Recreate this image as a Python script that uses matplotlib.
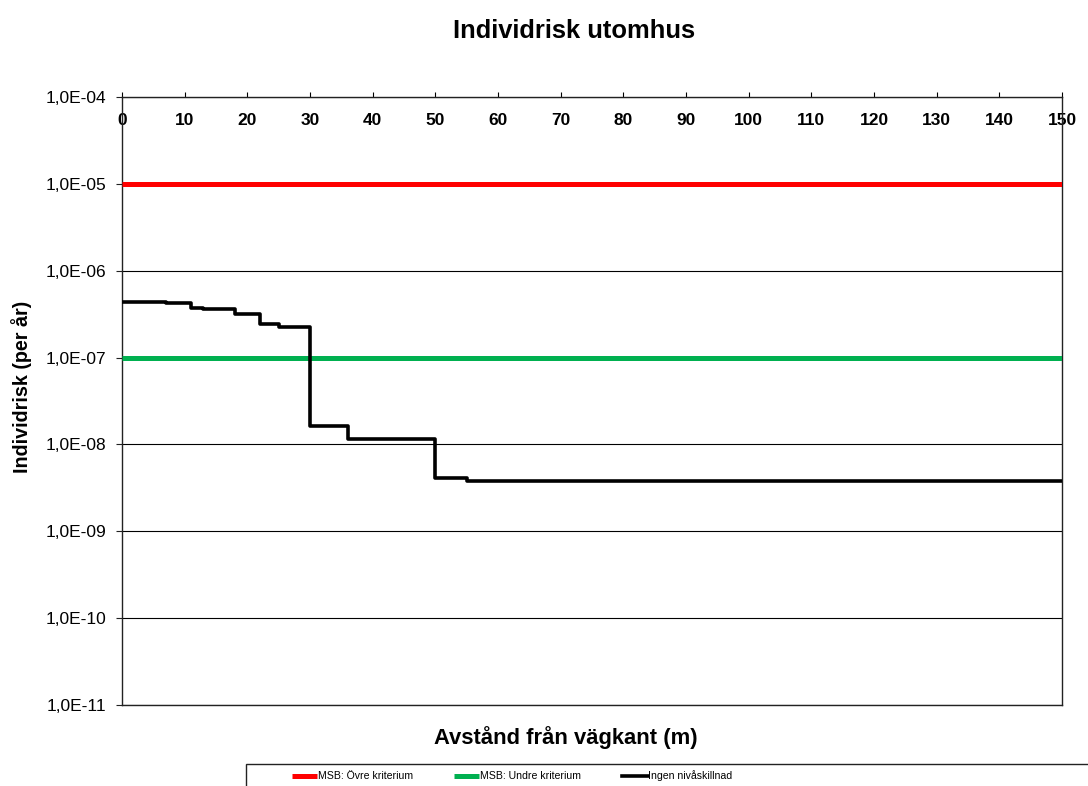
import math
import matplotlib.pyplot as plt
from matplotlib.patches import Rectangle
from matplotlib.ticker import FixedLocator, FuncFormatter

plt.rcParams['font.family'] = ['Liberation Sans', 'DejaVu Sans']

# avstånd (m) och individrisk (per år), trappstegsform
avstand = [0, 7, 11, 13, 18, 22, 25, 30, 36, 50, 55, 150]
risk = [4.36e-7, 4.22e-7, 3.72e-7, 3.6e-7, 3.15e-7, 2.42e-7, 2.27e-7,
        1.64e-8, 1.15e-8, 4.07e-9, 3.79e-9, 3.79e-9]

ovre_kriterium = 1e-5
undre_kriterium = 1e-7
x_range = [0, 150]
decades = [1e-11, 1e-10, 1e-9, 1e-8, 1e-7, 1e-6, 1e-5, 1e-4]
x_ticks = list(range(0, 151, 10))

fig = plt.figure(figsize=(10.88, 7.86), dpi=100)
ax = fig.add_axes([0.1121, 0.1031, 0.8640, 0.7735])

ax.plot(x_range, [ovre_kriterium] * 2, color='#ff0000', lw=3.6,
        label='MSB: Övre kriterium', solid_capstyle='butt', zorder=3)
ax.plot(x_range, [undre_kriterium] * 2, color='#00b050', lw=3.6,
        label='MSB: Undre kriterium', solid_capstyle='butt', zorder=3)
ax.plot(avstand, risk, drawstyle='steps-post', color='black', lw=2.6,
        label='Ingen nivåskillnad', zorder=4)

ax.set_yscale('log')
ax.set_ylim(1e-11, 1e-4)
ax.set_xlim(0, 150)
ax.yaxis.set_major_locator(FixedLocator(decades))
ax.yaxis.set_minor_locator(FixedLocator([]))
ax.yaxis.set_major_formatter(FuncFormatter(
    lambda v, p: '1,0E-%02d' % round(-math.log10(v))))
ax.set_xticks(x_ticks)
ax.grid(axis='y', color='black', lw=0.8)

ax.tick_params(axis='x', top=True, labeltop=True, bottom=False,
               labelbottom=False, direction='out', length=3.5, pad=-25.5,
               labelsize=12.5)
for lab in ax.get_xticklabels():
    lab.set_fontweight('bold')
ax.tick_params(axis='y', direction='out', length=4, labelsize=12.5, pad=7,
               colors='#222222', labelcolor='black')
for s in ax.spines.values():
    s.set_color('#222222')
    s.set_linewidth(1.0)

fig.text(574 / 1088, 1 - 31 / 786, 'Individrisk utomhus', ha='center',
         va='center', fontsize=18.4, fontweight='bold')
fig.text(566 / 1088, 1 - 738 / 786, 'Avstånd från vägkant (m)', ha='center',
         va='center', fontsize=15.8, fontweight='bold')
fig.text(22 / 1088, 1 - 387 / 786, 'Individrisk (per år)', ha='center',
         va='center', rotation=90, fontsize=14.2, fontweight='bold')

# legendram som fortsätter utanför bilden
fig.patches.append(Rectangle((246 / 1088, -0.05), 1.0, 0.05 + (786 - 764) / 786,
                             transform=fig.transFigure, fill=False,
                             edgecolor='#222222', lw=1.0))
fig.legend(loc='center left', bbox_to_anchor=(292 / 1088, 1 - 776 / 786),
           ncol=3, frameon=False, fontsize=7.6, handlelength=2.4,
           handletextpad=0.05, columnspacing=3.9, borderpad=0,
           borderaxespad=0)

fig.savefig('out.png', dpi=100)
